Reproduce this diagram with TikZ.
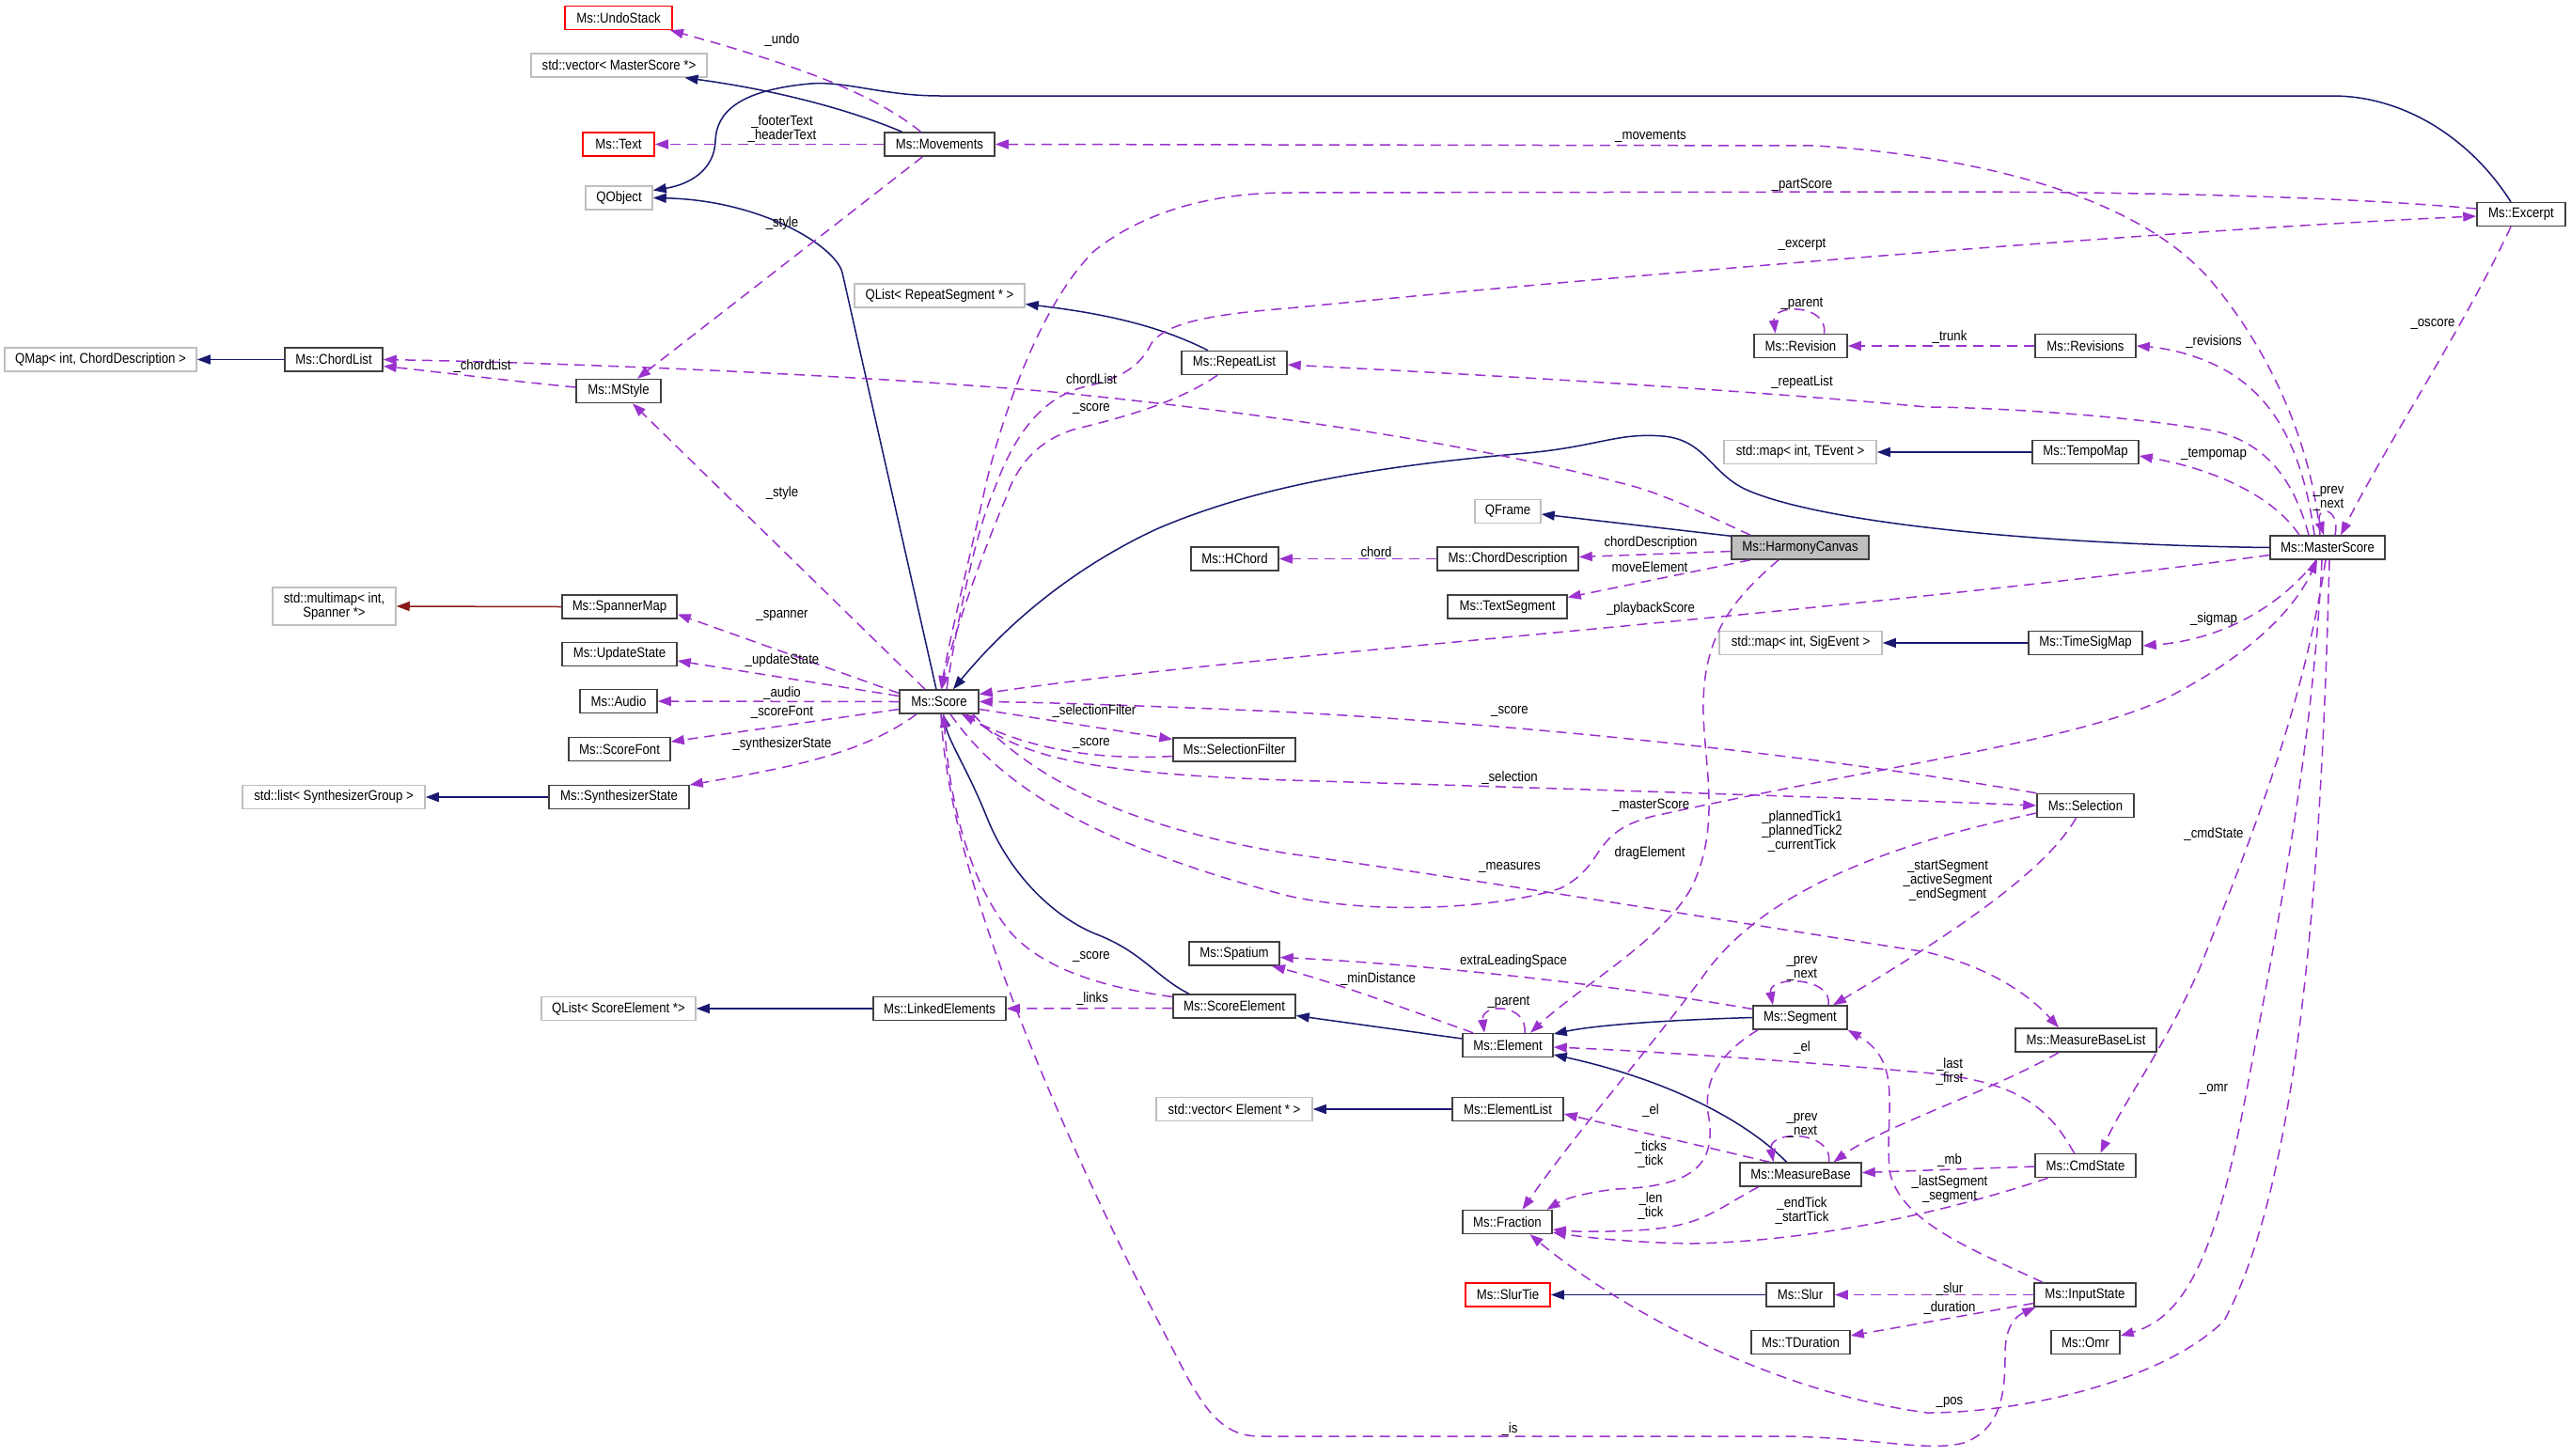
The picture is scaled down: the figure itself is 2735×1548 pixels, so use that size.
\documentclass[tikz,border=0pt]{standalone}
\usepackage{fontspec}
\setmainfont{Liberation Sans}[FakeStretch=0.88]
\usetikzlibrary{arrows.meta}
\definecolor{navyc}{HTML}{191970}
\definecolor{purc}{HTML}{9A32CD}
\definecolor{redc}{HTML}{8B1A1A}
\definecolor{boxc}{HTML}{404040}
\definecolor{grayc}{HTML}{BFBFBF}
\definecolor{redbox}{HTML}{FF0000}
\begin{document}
\begin{tikzpicture}[x=1pt,y=-1pt,font=\fontsize{15}{15}\selectfont,
  box/.style={draw=boxc,line width=1.5pt,fill=white,minimum height=25pt,inner sep=0pt,align=center},
  gbox/.style={box,draw=grayc},
  rbox/.style={box,draw=redbox},
  inh/.style={draw=navyc,line width=1.5pt,-{Triangle[length=14pt,width=10pt]}},
  inhr/.style={inh,draw=redc},
  agg/.style={draw=purc,line width=1.5pt,dash pattern=on 11pt off 7pt,-{Triangle[length=14pt,width=10pt]}},
  lbl/.style={inner sep=0pt,align=center}]
\fill[white] (0,0) rectangle (2735,1548);
\useasboundingbox (0,0) rectangle (2735,1548);

% nodes
\node[rbox,minimum width=114pt] (undo) at (658,19) {Ms::UndoStack};
\node[gbox,minimum width=187pt] (vecms) at (658.5,69.5) {std::vector< MasterScore *>};
\node[rbox,minimum width=76pt] (text) at (658,153.5) {Ms::Text};
\node[gbox,minimum width=71pt] (qobject) at (658.5,210.5) {QObject};
\node[box,minimum width=117pt] (movements) at (999.5,153.5) {Ms::Movements};
\node[gbox,minimum width=181pt] (qlistrs) at (999.5,314.5) {QList< RepeatSegment * >};
\node[gbox,minimum width=204pt] (qmap) at (107,382.5) {QMap< int, ChordDescription >};
\node[box,minimum width=104pt] (chordlist) at (355,382.5) {Ms::ChordList};
\node[box,minimum width=90pt] (mstyle) at (658,416) {Ms::MStyle};
\node[box,minimum width=112pt] (repeatlist) at (1313,386) {Ms::RepeatList};
\node[box,minimum width=99pt] (revision) at (1915.5,368) {Ms::Revision};
\node[box,minimum width=107pt] (revisions) at (2218.5,368) {Ms::Revisions};
\node[box,minimum width=94pt] (excerpt) at (2682,228) {Ms::Excerpt};
\node[gbox,minimum width=162pt] (maptevent) at (1915,481) {std::map< int, TEvent >};
\node[box,minimum width=113pt] (tempomap) at (2218.5,481) {Ms::TempoMap};
\node[gbox,minimum width=70pt] (qframe) at (1604,544) {QFrame};
\node[box,minimum width=93pt] (hchord) at (1313.5,594.5) {Ms::HChord};
\node[box,minimum width=150pt] (chorddesc) at (1604,594.5) {Ms::ChordDescription};
\node[box,fill=grayc,minimum width=146pt] (harmony) at (1915,582.5) {Ms::HarmonyCanvas};
\node[box,minimum width=127pt] (textseg) at (1603.5,645.5) {Ms::TextSegment};
\node[box,minimum width=122pt] (masterscore) at (2476,582.5) {Ms::MasterScore};
\node[gbox,minimum width=131pt,minimum height=40pt] (multimap) at (355.5,645) {std::multimap< int,\\Spanner *>};
\node[box,minimum width=122pt] (spannermap) at (659,645.5) {Ms::SpannerMap};
\node[box,minimum width=122pt] (updatestate) at (659,696) {Ms::UpdateState};
\node[box,minimum width=82pt] (audio) at (658,746) {Ms::Audio};
\node[box,minimum width=108pt] (scorefont) at (659,797) {Ms::ScoreFont};
\node[box,minimum width=149pt] (synthstate) at (658.5,848) {Ms::SynthesizerState};
\node[gbox,minimum width=194pt] (listsynth) at (355,848) {std::list< SynthesizerGroup >};
\node[box,minimum width=84pt] (score) at (999,746.5) {Ms::Score};
\node[box,minimum width=130pt] (selfilter) at (1313,797.5) {Ms::SelectionFilter};
\node[gbox,minimum width=173pt] (mapsig) at (1915.5,684) {std::map< int, SigEvent >};
\node[box,minimum width=121pt] (timesigmap) at (2218.5,684) {Ms::TimeSigMap};
\node[box,minimum width=103pt] (selection) at (2218.5,857) {Ms::Selection};
\node[box,minimum width=96pt] (spatium) at (1313,1014.5) {Ms::Spatium};
\node[gbox,minimum width=164pt] (qlistse) at (658,1073) {QList< ScoreElement *>};
\node[box,minimum width=141pt] (linked) at (999.5,1073) {Ms::LinkedElements};
\node[box,minimum width=130pt] (scoreelem) at (1313,1070.5) {Ms::ScoreElement};
\node[box,minimum width=96pt] (element) at (1604,1112) {Ms::Element};
\node[box,minimum width=100pt] (segment) at (1915,1082.5) {Ms::Segment};
\node[box,minimum width=150pt] (mblist) at (2219,1106.5) {Ms::MeasureBaseList};
\node[gbox,minimum width=166pt] (vecel) at (1313,1180) {std::vector< Element * >};
\node[box,minimum width=118pt] (elist) at (1604,1180) {Ms::ElementList};
\node[box,minimum width=129pt] (measurebase) at (1915.5,1249.5) {Ms::MeasureBase};
\node[box,minimum width=107pt] (cmdstate) at (2218.5,1240) {Ms::CmdState};
\node[box,minimum width=95pt] (fraction) at (1603.5,1300) {Ms::Fraction};
\node[rbox,minimum width=90pt] (slurtie) at (1604,1377.5) {Ms::SlurTie};
\node[box,minimum width=72pt] (slur) at (1915,1377.5) {Ms::Slur};
\node[box,minimum width=108pt] (inputstate) at (2218,1377.5) {Ms::InputState};
\node[box,minimum width=105pt] (tduration) at (1915.5,1428) {Ms::TDuration};
\node[box,minimum width=73pt] (omr) at (2218.5,1428) {Ms::Omr};

% inheritance (solid)
\draw[inh] ([xshift=-40pt]movements.north) .. controls (900,115) and (820,95) .. ([xshift=70pt]vecms.south);
\draw[inh] ([xshift=-11pt]excerpt.north) .. controls (2630,150) and (2560,102) .. (2481,102) -- (1000,102) .. controls (940,102) and (900,86) .. (862,89) .. controls (785,96) and (762,120) .. (761,150) .. controls (760,180) and (735,196) .. ([yshift=8pt]qobject.east);
\draw[inh] ([xshift=-3pt]score.north) -- (896,290) .. controls (889,262) and (810,213) .. (qobject.east);
\draw[inh] ([xshift=-28pt]repeatlist.north) .. controls (1230,345) and (1170,333) .. ([yshift=-9pt]qlistrs.east);
\draw[inh] (chordlist.west) -- (qmap.east);
\draw[inhr] (spannermap.west) -- (multimap.east);
\draw[inh] (synthstate.west) -- (listsynth.east);
\draw[inh] ([yshift=-1pt]harmony.north west) -- ([yshift=-3pt]qframe.east);
\draw[inh] (masterscore.west) .. controls (2200,580) and (1950,560) .. (1860,522) .. controls (1820,505) and (1815,468) .. (1769,464) .. controls (1720,460) and (1700,475) .. (1624,482) .. controls (1450,497) and (1330,520) .. (1230,563) .. controls (1140,605) and (1070,665) .. ([xshift=15pt]score.north);
\draw[inh] (tempomap.west) -- (maptevent.east);
\draw[inh] (timesigmap.west) -- (mapsig.east);
\draw[inh] ([xshift=-48pt]scoreelem.north) .. controls (1230,1040) and (1215,1012) .. (1164,993) .. controls (1115,972) and (1072,925) .. (1050,870) .. controls (1030,820) and (1010,790) .. ([xshift=4pt]score.south);
\draw[inh] (linked.west) -- (qlistse.east);
\draw[inh] ([yshift=7pt]element.west) -- ([yshift=-10pt]scoreelem.east);
\draw[inh] (segment.west) .. controls (1780,1085) and (1700,1090) .. ([yshift=12pt]element.east);
\draw[inh] ([xshift=-15pt]measurebase.north) .. controls (1860,1195) and (1780,1150) .. ([yshift=-10pt]element.east);
\draw[inh] (elist.west) -- (vecel.east);
\draw[inh] (slur.west) -- (slurtie.east);

% usage (dashed)
\draw[agg] ([xshift=-20pt]movements.north) .. controls (930,100) and (850,70) .. ([xshift=55pt]undo.south);
\draw[agg] (movements.west) -- (text.east);
\draw[agg] ([xshift=-18pt]movements.south) -- ([xshift=20pt]mstyle.north);
\draw[agg] ([xshift=-8pt]masterscore.north) .. controls (2460,480) and (2420,380) .. (2353,300) .. controls (2290,225) and (2150,170) .. (1932,155) -- (movements.east);
\draw[agg] ([yshift=6pt]excerpt.west) .. controls (2500,210) and (2300,204) .. (2045,204) -- (1370,205) .. controls (1280,205) and (1210,230) .. (1164,267) .. controls (1110,320) and (1070,430) .. (1050,510) .. controls (1030,600) and (1010,680) .. ([xshift=2pt]score.north);
\draw[agg] ([xshift=8pt]score.north) .. controls (1020,650) and (1040,560) .. (1058,520) .. controls (1080,460) and (1110,420) .. (1160,410) .. controls (1200,400) and (1215,385) .. (1225,365) .. controls (1240,345) and (1280,335) .. (1370,328) .. controls (1700,295) and (2300,245) .. ([yshift=-2pt]excerpt.west);
\draw[agg] ([yshift=4pt]mstyle.west) .. controls (540,405) and (460,395) .. ([yshift=-7pt]chordlist.east);
\draw[agg] ([xshift=-53pt]harmony.north) .. controls (1820,550) and (1780,530) .. (1740,518) .. controls (1600,480) and (1400,445) .. (1120,417) .. controls (900,398) and (600,386) .. (chordlist.east);
\draw[agg] ([xshift=-18pt]repeatlist.south) .. controls (1250,430) and (1190,445) .. (1142,457) .. controls (1100,470) and (1080,500) .. (1070,530) .. controls (1040,600) and (1010,690) .. ([xshift=3pt]score.north);
\draw[agg] ([xshift=-20pt]masterscore.north) .. controls (2440,510) and (2410,470) .. (2353,458) .. controls (2250,440) and (2100,433) .. (2050,433) .. controls (1800,410) and (1500,395) .. ([yshift=-2pt]repeatlist.east);
\draw[agg] ([xshift=25pt]revision.north) .. controls (1945,323) and (1885,323) .. ([xshift=-27pt]revision.north);
\draw[agg] (revisions.west) -- (revision.east);
\draw[agg] ([xshift=-14pt]masterscore.north) .. controls (2450,480) and (2420,420) .. (2360,390) .. controls (2330,375) and (2300,370) .. (revisions.east);
\draw[agg] ([xshift=-11pt]excerpt.south) .. controls (2620,350) and (2540,470) .. ([xshift=14pt]masterscore.north);
\draw[agg] ([xshift=-30pt]masterscore.north) .. controls (2420,530) and (2360,500) .. ([yshift=-4pt]tempomap.east);
\draw[agg] ([xshift=8pt]masterscore.north) .. controls (2490,538) and (2462,538) .. ([xshift=-4pt]masterscore.north);
\draw[agg] ([yshift=-8pt]masterscore.west) .. controls (2200,620) and (1900,650) .. (1580,680) .. controls (1400,697) and (1200,715) .. ([yshift=8pt]score.east);
\draw[agg] ([yshift=-4pt]harmony.west) -- ([yshift=2pt]chorddesc.east);
\draw[agg] ([xshift=-53pt]harmony.south) -- ([yshift=10pt]textseg.east);
\draw[agg] (chorddesc.west) -- (hchord.east);
\draw[agg] ([xshift=-23pt]harmony.south) .. controls (1840,640) and (1810,680) .. (1812,760) .. controls (1814,820) and (1830,880) .. (1800,943) .. controls (1770,1000) and (1680,1050) .. ([xshift=24pt]element.north);
\draw[agg] ([xshift=-15pt]score.north) -- ([xshift=15pt]mstyle.south);
\draw[agg] ([yshift=9pt]score.west) -- ([yshift=-8pt]spannermap.east);
\draw[agg] ([yshift=6pt]score.west) -- ([yshift=-7pt]updatestate.east);
\draw[agg] (score.west) -- (audio.east);
\draw[agg] ([yshift=-8pt]score.west) -- ([yshift=8pt]scorefont.east);
\draw[agg] ([xshift=-24pt]score.south) .. controls (920,800) and (850,815) .. ([yshift=13pt]synthstate.east);
\draw[agg] ([yshift=-8pt]score.east) -- ([yshift=11pt]selfilter.west);
\draw[agg] ([yshift=-7pt]selfilter.west) .. controls (1150,810) and (1080,790) .. ([xshift=24pt]score.south);
\draw[agg] (selection.north west) .. controls (2000,815) and (1700,775) .. (1360,757) .. controls (1200,750) and (1100,747) .. (score.east);
\draw[agg] ([xshift=29pt]score.south) .. controls (1080,800) and (1130,822) .. (1370,830) .. controls (1700,840) and (2000,850) .. (selection.west);
\draw[agg] ([xshift=12pt]score.south) .. controls (1060,830) and (1150,895) .. (1370,953) .. controls (1470,975) and (1600,965) .. (1660,945) .. controls (1710,920) and (1690,885) .. (1760,868) .. controls (2000,815) and (2200,790) .. (2300,745) .. controls (2390,700) and (2440,650) .. ([xshift=-11pt]masterscore.south);
\draw[agg] ([xshift=36pt]score.south) .. controls (1100,830) and (1200,880) .. (1370,908) .. controls (1600,940) and (1900,990) .. (2050,1013) .. controls (2120,1030) and (2160,1060) .. ([xshift=-29pt]mblist.north);
\draw[agg] ([xshift=-2pt]masterscore.south) .. controls (2450,750) and (2400,880) .. (2340,1030) .. controls (2300,1120) and (2260,1170) .. ([xshift=16pt]cmdstate.north);
\draw[agg] ([xshift=-6pt]masterscore.south) .. controls (2460,800) and (2420,1000) .. (2390,1160) .. controls (2360,1320) and (2330,1400) .. ([yshift=7pt]omr.east);
\draw[agg] ([xshift=2pt]masterscore.south) .. controls (2470,900) and (2450,1250) .. (2366,1405) .. controls (2300,1470) and (2150,1503) .. (2050,1503) .. controls (1880,1480) and (1720,1390) .. ([xshift=24pt]fraction.south);
\draw[agg] ([xshift=2pt]score.south) .. controls (1010,950) and (1150,1250) .. (1250,1440) .. controls (1280,1500) and (1300,1528) .. (1340,1528) -- (1900,1528) .. controls (2000,1530) and (2050,1545) .. (2089,1535) .. controls (2130,1520) and (2133,1480) .. (2133,1440) .. controls (2133,1410) and (2145,1400) .. ([xshift=2pt]inputstate.south west);
\draw[agg] ([yshift=10pt]scoreelem.west) .. controls (1170,1050) and (1110,1030) .. (1076,993) .. controls (1035,945) and (1010,860) .. ([xshift=5pt]score.south);
\draw[agg] ([yshift=-2pt]scoreelem.west) -- (linked.east);
\draw[agg] ([xshift=-37pt]element.north) .. controls (1500,1075) and (1420,1045) .. ([xshift=40pt]spatium.south);
\draw[agg] ([yshift=9pt]segment.west) .. controls (1700,1045) and (1500,1025) .. ([yshift=-4pt]spatium.east);
\draw[agg] ([xshift=18pt]element.north) .. controls (1625,1067) and (1575,1067) .. ([xshift=-25pt]element.north);
\draw[agg] ([xshift=30pt]segment.north) .. controls (1950,1038) and (1880,1038) .. ([xshift=-29pt]segment.north);
\draw[agg] ([xshift=-10pt]selection.south) .. controls (2180,920) and (2100,980) .. ([xshift=35pt]segment.north);
\draw[agg] ([yshift=-8pt]selection.west) .. controls (2000,900) and (1880,950) .. (1818,1030) .. controls (1760,1110) and (1680,1200) .. ([xshift=16pt]fraction.north);
\draw[agg] ([xshift=-45pt]segment.south) .. controls (1830,1120) and (1810,1150) .. (1818,1190) .. controls (1825,1240) and (1800,1262) .. (1720,1265) .. controls (1690,1268) and (1665,1275) .. ([xshift=42pt]fraction.north);
\draw[agg] ([xshift=-45pt]measurebase.south) .. controls (1820,1290) and (1810,1305) .. (1740,1309) .. controls (1700,1311) and (1670,1310) .. ([yshift=-8pt]fraction.east);
\draw[agg] ([xshift=-40pt]cmdstate.south) .. controls (2100,1280) and (1950,1320) .. (1800,1323) .. controls (1740,1322) and (1690,1317) .. ([yshift=-11pt]fraction.east);
\draw[agg] ([xshift=-33pt]measurebase.north) -- ([yshift=-5pt]elist.east);
\draw[agg] ([xshift=30pt]measurebase.north) .. controls (1950,1202) and (1880,1202) .. ([xshift=-29pt]measurebase.north);
\draw[agg] ([xshift=-12pt]cmdstate.north) .. controls (2180,1180) and (2150,1150) .. (2045,1141) .. controls (1900,1128) and (1750,1118) .. ([yshift=-2pt]element.east);
\draw[agg] ([xshift=-29pt]mblist.south) .. controls (2120,1160) and (2000,1200) .. ([xshift=35pt]measurebase.north);
\draw[agg] ([yshift=-1pt]cmdstate.west) -- ([yshift=2pt]measurebase.east);
\draw[agg] ([xshift=-45pt]inputstate.north) .. controls (2100,1330) and (2020,1300) .. (2010,1245) .. controls (2005,1180) and (2025,1130) .. (segment.south east);
\draw[agg] (inputstate.west) -- (slur.east);
\draw[agg] ([yshift=-9pt]inputstate.west) -- ([yshift=7pt]tduration.east);
\draw[agg] ([xshift=-12pt]masterscore.south) .. controls (2430,640) and (2370,680) .. ([yshift=-3pt]timesigmap.east);

% labels
\node[lbl] (lundo) at (832,43) {\_undo};
\node[lbl] (lfooter) at (832,137) {\_footerText\\\_headerText};
\node[lbl] (lstyle1) at (832,238) {\_style};
\node[lbl] (lmov) at (1756,145) {\_movements};
\node[lbl] (lpart) at (1917,197) {\_partScore};
\node[lbl] (lexc) at (1917,260) {\_excerpt};
\node[lbl] (lcl) at (513,390) {\_chordList};
\node[lbl] (lcl2) at (1161,403) {chordList};
\node[lbl] (lscore1) at (1161,435) {\_score};
\node[lbl] (lrep) at (1917,407) {\_repeatList};
\node[lbl] (lparent1) at (1917,323) {\_parent};
\node[lbl] (ltrunk) at (2074,359) {\_trunk};
\node[lbl] (lrevs) at (2355,364) {\_revisions};
\node[lbl] (losc) at (2588,345) {\_oscore};
\node[lbl] (ltempo) at (2355,483) {\_tempomap};
\node[lbl] (lprevms) at (2477,530) {\_prev\\\_next};
\node[lbl] (lplay) at (1756,648) {\_playbackScore};
\node[lbl] (lcd) at (1756,578) {chordDescription};
\node[lbl] (lmove) at (1755,603) {moveElement};
\node[lbl] (lchord) at (1464,587) {chord};
\node[lbl] (ldrag) at (1755,908) {dragElement};
\node[lbl] (lstyle2) at (832,525) {\_style};
\node[lbl] (lspan) at (832,655) {\_spanner};
\node[lbl] (lupd) at (832,703) {\_updateState};
\node[lbl] (laudio) at (832,738) {\_audio};
\node[lbl] (lsf) at (832,758) {\_scoreFont};
\node[lbl] (lsynth) at (832,792) {\_synthesizerState};
\node[lbl] (lselfilt) at (1164,757) {\_selectionFilter};
\node[lbl] (lscore2) at (1161,791) {\_score};
\node[lbl] (lscore3) at (1606,757) {\_score};
\node[lbl] (lsel) at (1606,828) {\_selection};
\node[lbl] (lms) at (1756,857) {\_masterScore};
\node[lbl] (lmeas) at (1606,923) {\_measures};
\node[lbl] (lcmd) at (2355,888) {\_cmdState};
\node[lbl] (lomr) at (2355,1159) {\_omr};
\node[lbl] (lpos) at (2074,1492) {\_pos};
\node[lbl] (lis) at (1606,1521) {\_is};
\node[lbl] (lscore4) at (1161,1018) {\_score};
\node[lbl] (llinks) at (1162,1063) {\_links};
\node[lbl] (lmind) at (1466,1042) {\_minDistance};
\node[lbl] (lextra) at (1610,1023) {extraLeadingSpace};
\node[lbl] (lparent2) at (1605,1066) {\_parent};
\node[lbl] (lprevseg) at (1917,1030) {\_prev\\\_next};
\node[lbl] (lstartseg) at (2072,937) {\_startSegment\\\_activeSegment\\\_endSegment};
\node[lbl] (lplanned) at (1917,885) {\_plannedTick1\\\_plannedTick2\\\_currentTick};
\node[lbl] (lticks) at (1756,1228) {\_ticks\\\_tick};
\node[lbl] (llen) at (1756,1283) {\_len\\\_tick};
\node[lbl] (lend) at (1917,1288) {\_endTick\\\_startTick};
\node[lbl] (lel1) at (1756,1182) {\_el};
\node[lbl] (lprevmb) at (1917,1197) {\_prev\\\_next};
\node[lbl] (lel2) at (1917,1115) {\_el};
\node[lbl] (llast) at (2074,1140) {\_last\\\_first};
\node[lbl] (lmb) at (2074,1235) {\_mb};
\node[lbl] (llastseg) at (2074,1265) {\_lastSegment\\\_segment};
\node[lbl] (lslur) at (2074,1372) {\_slur};
\node[lbl] (ldur) at (2074,1392) {\_duration};
\node[lbl] (lsig) at (2355,659) {\_sigmap};
\end{tikzpicture}
\end{document}
